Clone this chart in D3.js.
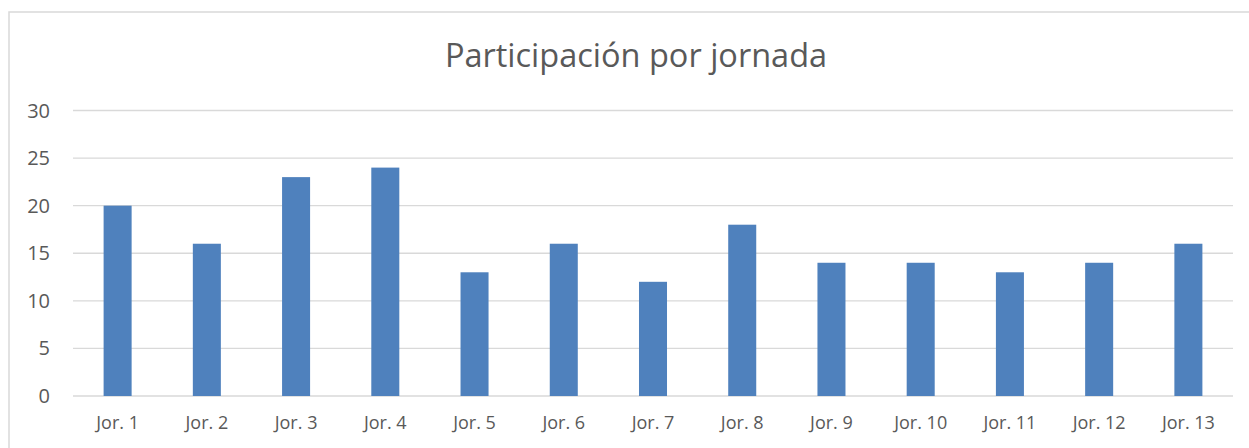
<!DOCTYPE html>
<html>
<head>
<meta charset="utf-8">
<script src="https://cdn.jsdelivr.net/npm/d3@7"></script>
<style>
  body { margin: 0; background: #fff; }
  text { font-family: "Open Sans", sans-serif; fill: #595959; }
</style>
</head>
<body>
<div id="chart"></div>
<script>
// Data
const categories = ["Jor. 1", "Jor. 2", "Jor. 3", "Jor. 4", "Jor. 5", "Jor. 6", "Jor. 7",
  "Jor. 8", "Jor. 9", "Jor. 10", "Jor. 11", "Jor. 12", "Jor. 13"];
const values = [20, 16, 23, 24, 13, 16, 12, 18, 14, 14, 13, 14, 16];
const yTicks = [0, 5, 10, 15, 20, 25, 30];
const title = "Participación por jornada";

const width = 1249, height = 448;
const margin = { left: 73, right: 16, top: 110.5, bottom: 52 };

const svg = d3.select("#chart").append("svg")
  .attr("width", width)
  .attr("height", height);

// chart border (top & left only visible)
svg.append("rect")
  .attr("x", 9)
  .attr("y", 12)
  .attr("width", width + 20)
  .attr("height", height + 20)
  .attr("fill", "none")
  .attr("stroke", "#d9d9d9")
  .attr("stroke-width", 1.5);

const x = d3.scaleBand()
  .domain(categories)
  .range([margin.left, width - margin.right])
  .paddingInner(0.686)
  .paddingOuter(0.343);

const y = d3.scaleLinear()
  .domain([0, 30])
  .range([396, margin.top]);

// gridlines
svg.append("g")
  .selectAll("line")
  .data(yTicks)
  .enter()
  .append("line")
  .attr("x1", margin.left)
  .attr("x2", 1233)
  .attr("y1", d => y(d))
  .attr("y2", d => y(d))
  .attr("stroke", "#d9d9d9")
  .attr("stroke-width", 1.3);

// y labels
svg.append("g")
  .selectAll("text")
  .data(yTicks)
  .enter()
  .append("text")
  .attr("x", 50)
  .attr("y", d => y(d))
  .attr("dy", "0.35em")
  .attr("text-anchor", "end")
  .attr("font-size", 20)
  .text(d => d);

// bars
svg.append("g")
  .selectAll("rect")
  .data(values)
  .enter()
  .append("rect")
  .attr("x", (d, i) => x(categories[i]))
  .attr("y", d => y(d))
  .attr("width", x.bandwidth())
  .attr("height", d => y(0) - y(d))
  .attr("fill", "#4f81bd");

// x labels
svg.append("g")
  .selectAll("text")
  .data(categories)
  .enter()
  .append("text")
  .attr("x", d => x(d) + x.bandwidth() / 2)
  .attr("y", 429)
  .attr("text-anchor", "middle")
  .attr("font-size", 18)
  .text(d => d);

// title
svg.append("text")
  .attr("x", 636)
  .attr("y", 67)
  .attr("text-anchor", "middle")
  .attr("font-size", 32.5)
  .text(title);
</script>
</body>
</html>
